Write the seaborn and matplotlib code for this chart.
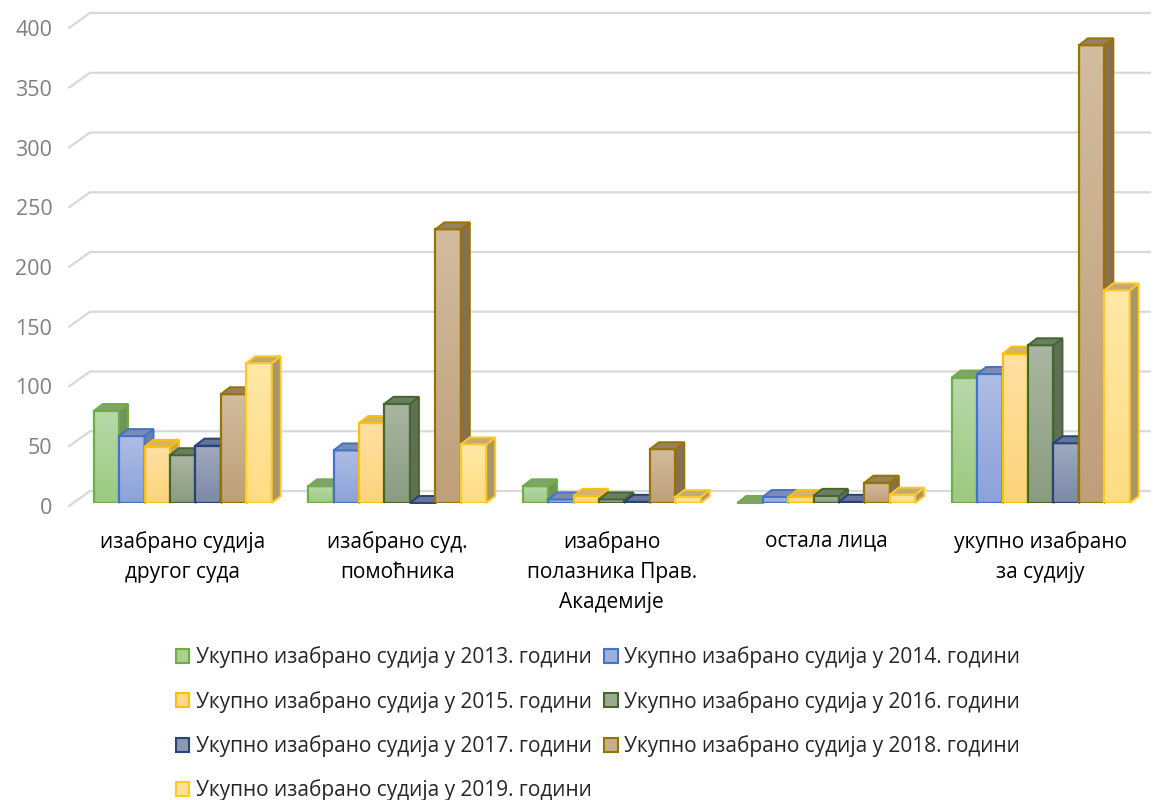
import numpy as np
import pandas as pd
import seaborn as sns
import matplotlib
matplotlib.use("Agg")
import matplotlib.pyplot as plt
from matplotlib.patches import Polygon, Patch
from matplotlib.lines import Line2D
from matplotlib.transforms import IdentityTransform, ScaledTranslation
import matplotlib.colors as mcolors

# ---------------- data ----------------
categories = ["изабрано судија\nдругог суда",
              "изабрано суд.\nпомоћника",
              "изабрано\nполазника Прав.\nАкадемије",
              "остала лица",
              "укупно изабрано\nза судију"]
series = ["Укупно изабрано судија у 2013. години",
          "Укупно изабрано судија у 2014. години",
          "Укупно изабрано судија у 2015. години",
          "Укупно изабрано судија у 2016. години",
          "Укупно изабрано судија у 2017. години",
          "Укупно изабрано судија у 2018. години",
          "Укупно изабрано судија у 2019. години"]
v2013 = [77, 14, 14, 0, 105]
v2014 = [56, 44, 3, 5, 108]
v2015 = [47, 67, 6, 5, 125]
v2016 = [40, 83, 3, 6, 132]
v2017 = [48, 0, 1, 1, 50]
v2018 = [91, 229, 45, 17, 383]
v2019 = [117, 49, 5, 7, 178]
yticks = [0, 50, 100, 150, 200, 250, 300, 350, 400]

# ---------------- style ----------------
fill_top = ["#B8D8AA", "#AEBDE4", "#FFE0A2", "#AAB6A2", "#A0A9BF", "#D3BC9E", "#FFE8A8"]
fill_bot = ["#9BCA80", "#8BA2DA", "#FDD47B", "#8A9C80", "#7C89A8", "#BE9F79", "#FFDC84"]
fill_mid = ["#A9D18E", "#9DB0DF", "#FFDA8E", "#9AA991", "#8E98B3", "#C9AE8B", "#FFE296"]
edges = ["#70AD47", "#4472C4", "#FFC000", "#43682B", "#264478", "#997300", "#FFCA28"]
sides = ["#6F9459", "#6C7EA8", "#C6A462", "#5F6F56", "#56658A", "#857052", "#A99669"]
tops = ["#7FA36A", "#7A8CB5", "#D3B36E", "#6D7D63", "#64739A", "#968060", "#C2AA73"]

values = [v2013, v2014, v2015, v2016, v2017, v2018, v2019]
rows = []
for s, vals in zip(series, values):
    for c, v in zip(categories, vals):
        rows.append({"cat": c, "series": s, "val": v})
df = pd.DataFrame(rows)

sns.set_style("white")
plt.rcParams["font.family"] = ["Open Sans", "DejaVu Sans"]

W, H = 1154, 800
fig = plt.figure(figsize=(W / 100, H / 100), dpi=100)
L, R = 69, 1148
B, T = 503, 15
ax = fig.add_axes([L / W, 1 - B / H, (R - L) / W, (B - T) / H])

sns.barplot(data=df, x="cat", y="val", hue="series", order=categories,
            hue_order=series, palette=fill_mid, width=0.83, ax=ax,
            legend=False, saturation=1, linewidth=1.5)

px_per_unit = 1.195
ax.set_ylim(0, (B - T) / px_per_unit)
ax.set_xlim(-0.53, 4.5)
for s in ax.spines.values():
    s.set_visible(False)
ax.grid(False)

fig.canvas.draw()

# back-wall gridlines with perspective diagonal
DX_G, DY_G = 21, 15
for v in yticks:
    x0, y0 = ax.transData.transform((ax.get_xlim()[0], v))
    y0 -= 3
    ln = Line2D([x0, x0 + DX_G, 1150], [y0, y0 + DY_G, y0 + DY_G],
                transform=IdentityTransform(), color="#D9D9D9", lw=1.6,
                zorder=0.5, clip_on=False)
    ax.add_line(ln)

# bars: gradient front, side & top faces
DX, DY = 9, 7
for hi, cont in enumerate(ax.containers):
    z = 2 + hi * 0.1
    cmap = mcolors.LinearSegmentedColormap.from_list("g%d" % hi, [fill_bot[hi], fill_top[hi]])
    for p in cont.patches:
        p.set_edgecolor(edges[hi])
        p.set_linewidth(1.6)
        p.set_zorder(z + 0.02)
        x, w, h = p.get_x(), p.get_width(), p.get_height()
        if h > 0:
            p.set_facecolor("none")
            grad = np.linspace(0, 1, 100).reshape(-1, 1)
            im = ax.imshow(grad, extent=(x, x + w, 0, h), origin="lower",
                           cmap=cmap, aspect="auto", zorder=z, interpolation="bilinear")
            im.set_clip_path(p)
        (dx0, dy0) = ax.transData.transform((x, 0))
        (dx1, dy1) = ax.transData.transform((x + w, h))
        side = Polygon([(dx1, dy0), (dx1 + DX, dy0 + DY), (dx1 + DX, dy1 + DY), (dx1, dy1)],
                       closed=True, transform=IdentityTransform(), facecolor=sides[hi],
                       edgecolor=edges[hi], lw=1.4, zorder=z + 0.03, clip_on=False)
        top = Polygon([(dx0, dy1), (dx0 + DX, dy1 + DY), (dx1 + DX, dy1 + DY), (dx1, dy1)],
                      closed=True, transform=IdentityTransform(), facecolor=tops[hi],
                      edgecolor=edges[hi], lw=1.4, zorder=z + 0.04, clip_on=False)
        ax.add_patch(side)
        ax.add_patch(top)

ax.set_ylim(0, (B - T) / px_per_unit)
ax.set_xlim(-0.53, 4.5)

ax.set_yticks(yticks)
ax.set_yticklabels([str(v) for v in yticks], fontsize=15.5, color="#808080")
ax.tick_params(axis="y", length=0, pad=12)
shift = ScaledTranslation(0, -3 / 100, fig.dpi_scale_trans)
for lab in ax.get_yticklabels():
    lab.set_transform(lab.get_transform() + shift)
ax.set_xticks(range(len(categories)))
ax.set_xticklabels(categories, fontsize=15, color="#000000", linespacing=1.58)
ax.tick_params(axis="x", length=0, pad=20)
ax.set_xlabel("")
ax.set_ylabel("")

# legend (row-major order in 2 columns)
handles = [Patch(facecolor=fill_mid[i], edgecolor=edges[i], lw=1.5) for i in range(7)]
order = [0, 2, 4, 6, 1, 3, 5]
fig.legend([handles[i] for i in order], [series[i] for i in order],
           loc="upper center", bbox_to_anchor=(598 / W, 1 - 636 / H), ncol=2,
           frameon=False, fontsize=15, handlelength=0.65, handleheight=0.65,
           handletextpad=0.3, columnspacing=0.6, labelspacing=1.08, borderpad=0)

fig.savefig("out.png", dpi=100)
